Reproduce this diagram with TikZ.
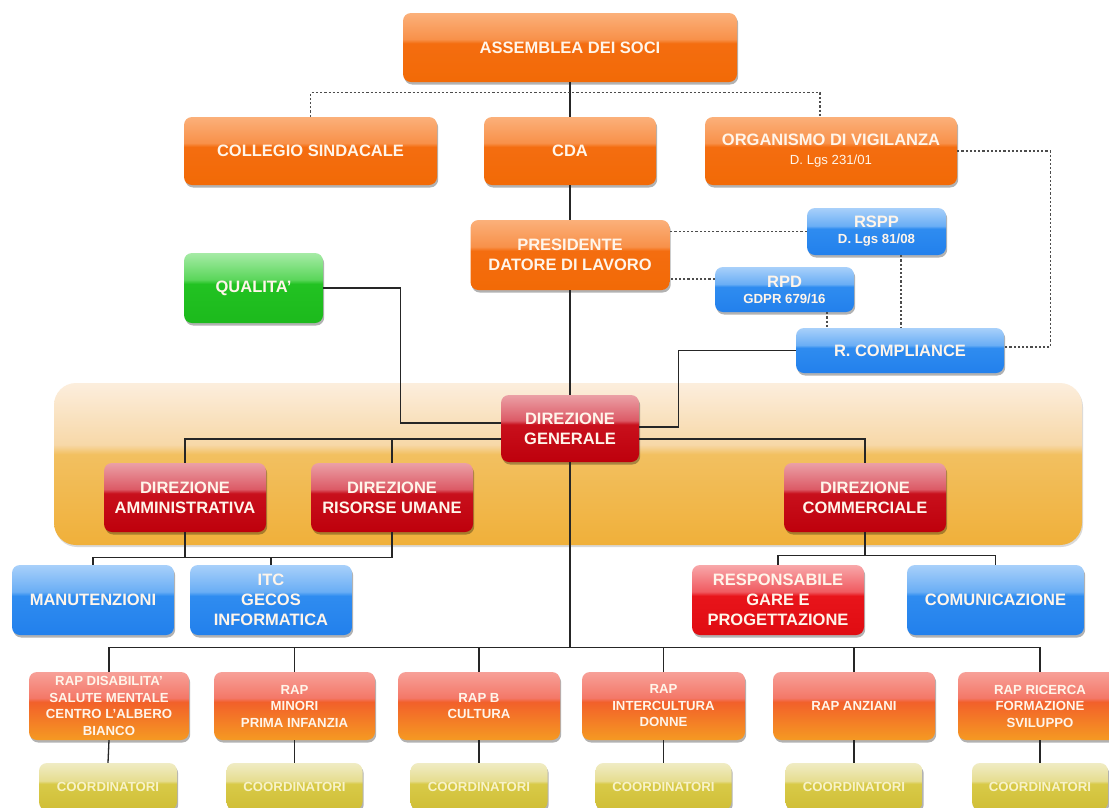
\documentclass[tikz,border=0pt]{standalone}
\usepackage{fontspec}
\setmainfont{Liberation Sans}
\usetikzlibrary{shadows,calc}
\definecolor{txt}{HTML}{FFF5EA}
\definecolor{coTxt}{HTML}{F7F2C8}
\newcommand{\mkgloss}[5]{%
  \definecolor{#1T}{HTML}{#2}\definecolor{#1U}{HTML}{#3}%
  \definecolor{#1L}{HTML}{#4}\definecolor{#1B}{HTML}{#5}%
  \pgfdeclareverticalshading{#1sh}{100bp}{color(0bp)=(#1B); color(25bp)=(#1B);
    color(53bp)=(#1L); color(56bp)=(#1U); color(75bp)=(#1T); color(100bp)=(#1T)}}
\mkgloss{or}{FBB07A}{F8914A}{F46D10}{F26A06}
\mkgloss{gr}{A6EBA6}{5AD65A}{22C222}{1CBA1C}
\mkgloss{bl}{A8D0FA}{6AAEF5}{2F8CF0}{2280EC}
\mkgloss{rd}{EBA0A6}{DC5A66}{C8101C}{BE000C}
\mkgloss{br}{F8A8AA}{F05A60}{E8141A}{E00C12}
\mkgloss{rp}{F7A098}{F47868}{F2602A}{F59A22}
\mkgloss{co}{F0ECC4}{E6DD90}{D8CA48}{D0BE36}
\mkgloss{bd}{FCEEDD}{F7D8A8}{F2C060}{F0B03A}
\tikzset{
  box/.style={rounded corners=8pt, align=center, inner sep=0pt, text=txt,
    font=\bfseries\fontsize{16.5}{20}\selectfont,
    drop shadow={shadow xshift=1.2pt, shadow yshift=-2.5pt, opacity=0.3, fill=black}},
  orbox/.style={box, shading=orsh},
  grbox/.style={box, shading=grsh},
  blbox/.style={box, shading=blsh},
  rdbox/.style={box, shading=rdsh},
  brbox/.style={box, shading=brsh},
  rapbox/.style={box, shading=rpsh,
    font=\bfseries\fontsize{13.2}{16.5}\selectfont, minimum height=68pt},
  cobox/.style={box, shading=cosh, text=coTxt,
    font=\bfseries\fontsize{13.2}{16}\selectfont, minimum height=47pt},
  conn/.style={line width=1.3pt, black!85},
  dl/.style={line width=1.1pt, black!70, dash pattern=on 2.2pt off 2pt}
}
\newcommand{\subtxt}[1]{{\fontsize{13.2}{15}\selectfont #1}}
\begin{document}
\begin{tikzpicture}[x=1pt,y=-1pt]
\useasboundingbox (0,0) rectangle (1109,807);
\fill[white] (0,0) rectangle (1109,807);
% band
\node[rounded corners=22pt, shading=bdsh,
  minimum width=1028pt, minimum height=162pt, inner sep=0pt,
  drop shadow={shadow xshift=1pt, shadow yshift=-2pt, opacity=0.15, fill=black}] (band) at (568,464) {};
% top
\node[orbox, minimum width=334pt, minimum height=69pt] (ass) at (570,47.5) {ASSEMBLEA DEI SOCI};
\node[orbox, minimum width=253pt, minimum height=68pt] (col) at (310.5,151) {COLLEGIO SINDACALE};
\node[orbox, minimum width=172pt, minimum height=68pt] (cda) at (570,151) {CDA};
\node[orbox, minimum width=252pt, minimum height=68pt] (org) at (831,151)
  {ORGANISMO DI VIGILANZA\\[-1pt]{\mdseries\subtxt{D. Lgs 231/01}}};
\node[orbox, minimum width=199pt, minimum height=70pt] (pres) at (570,255) {PRESIDENTE\\DATORE DI LAVORO};
\node[grbox, minimum width=139pt, minimum height=70pt] (qual) at (253.5,288) {QUALITA'};
\node[blbox, minimum width=139pt, minimum height=47pt] (rspp) at (876.5,231.5) {RSPP\\[-4pt]\subtxt{D. Lgs 81/08}};
\node[blbox, minimum width=139pt, minimum height=45pt] (rpd) at (784.5,289.5) {RPD\\[-4pt]\subtxt{GDPR 679/16}};
\node[blbox, minimum width=208pt, minimum height=45pt] (comp) at (900,350.5) {R. COMPLIANCE};
% direzioni
\node[rdbox, minimum width=138pt, minimum height=67pt] (dg) at (570,428.5) {DIREZIONE\\GENERALE};
\node[rdbox, minimum width=162pt, minimum height=69pt] (da) at (185,497.5) {DIREZIONE\\AMMINISTRATIVA};
\node[rdbox, minimum width=162pt, minimum height=69pt] (dru) at (392,497.5) {DIREZIONE\\RISORSE UMANE};
\node[rdbox, minimum width=162pt, minimum height=69pt] (dc) at (865,497.5) {DIREZIONE\\COMMERCIALE};
% third row
\node[blbox, minimum width=162pt, minimum height=70pt] (man) at (93,600) {MANUTENZIONI};
\node[blbox, minimum width=162pt, minimum height=70pt] (itc) at (271,600) {ITC\\GECOS\\INFORMATICA};
\node[brbox, minimum width=172pt, minimum height=70pt] (resp) at (778,600) {RESPONSABILE\\GARE E\\PROGETTAZIONE};
\node[blbox, minimum width=177pt, minimum height=70pt] (com) at (995.5,600) {COMUNICAZIONE};
% RAP
\node[rapbox, minimum width=160pt] (rap1) at (109,706) {RAP DISABILITA'\\SALUTE MENTALE\\CENTRO L'ALBERO\\BIANCO};
\node[rapbox, minimum width=161pt] (rap2) at (294.5,706) {RAP\\MINORI\\PRIMA INFANZIA};
\node[rapbox, minimum width=162pt] (rap3) at (479,706) {RAP B\\CULTURA};
\node[rapbox, minimum width=163pt] (rap4) at (663.5,706) {RAP\\INTERCULTURA\\DONNE};
\node[rapbox, minimum width=162pt] (rap5) at (854,706) {RAP ANZIANI};
\node[rapbox, minimum width=164pt] (rap6) at (1040,706) {RAP RICERCA\\FORMAZIONE\\SVILUPPO};
% coordinatori
\node[cobox, minimum width=138pt] (co1) at (108,786.5) {COORDINATORI};
\node[cobox, minimum width=136pt] (co2) at (294.5,786.5) {COORDINATORI};
\node[cobox, minimum width=137pt] (co3) at (479,786.5) {COORDINATORI};
\node[cobox, minimum width=136pt] (co4) at (663.5,786.5) {COORDINATORI};
\node[cobox, minimum width=137pt] (co5) at (854,786.5) {COORDINATORI};
\node[cobox, minimum width=136pt] (co6) at (1040,786.5) {COORDINATORI};
% solid connectors
\draw[conn] (ass.south) -- (cda.north);
\draw[conn] (cda.south) -- (pres.north);
\draw[conn] (pres.south) -- (dg.north);
\draw[conn] (qual.east) -| ($(dg.west)+(-100,-5.5)$) -- ($(dg.west)+(0,-5.5)$);
\draw[conn] (comp.west) -| ($(dg.east)+(39,-1.5)$) -- ($(dg.east)+(0,-1.5)$);
\coordinate (brL) at ($(dg.west)+(0,10.5)$);
\coordinate (brR) at ($(dg.east)+(0,10.5)$);
\draw[conn] (brL) -| (da.north);
\draw[conn] (dru.north) -- (dru.north |- brL);
\draw[conn] (brR) -| (dc.north);
\coordinate (mj) at ($(dru.south)+(0,25)$);
\draw[conn] (da.south) -- (da.south |- mj);
\draw[conn] (dru.south) -- (mj) -| (man.north);
\draw[conn] (itc.north) -- (itc.north |- mj);
\coordinate (cj) at ($(dc.south)+(0,23)$);
\draw[conn] (dc.south) -- (cj);
\draw[conn] (resp.north) |- (cj) -| (com.north);
\coordinate (bus) at ($(dg.south)+(0,185)$);
\draw[conn] (dg.south) -- (bus);
\draw[conn] (rap1.north) |- (bus) -| (rap6.north);
\foreach \k in {2,3,4,5} { \draw[conn] (rap\k.north) -- (rap\k.north |- bus); }
\foreach \k in {1,...,6} { \draw[conn] (rap\k.south) -- (co\k.north); }
% dashed connectors
\coordinate (orgin) at ($(org.north)+(-11,0)$);
\coordinate (compR) at ($(comp.east)+(0,-3.5)$);
\coordinate (rpdL) at ($(rpd.west)+(0,-10.5)$);
\coordinate (rsppB) at ($(rspp.south)+(24.5,0)$);
\coordinate (rpdB) at ($(rpd.south)+(42.5,0)$);
\draw[dl] (col.north) -- ++(0,-24) -| (orgin);
\draw[dl] (org.east) -| ($(compR)+(46,0)$) -- (compR);
\draw[dl] (rspp.west) -- (rspp.west -| pres.east);
\draw[dl] (rpdL) -- (rpdL -| pres.east);
\draw[dl] (rsppB) -- (rsppB |- comp.north);
\draw[dl] (rpdB) -- (rpdB |- comp.north);
\end{tikzpicture}
\end{document}
